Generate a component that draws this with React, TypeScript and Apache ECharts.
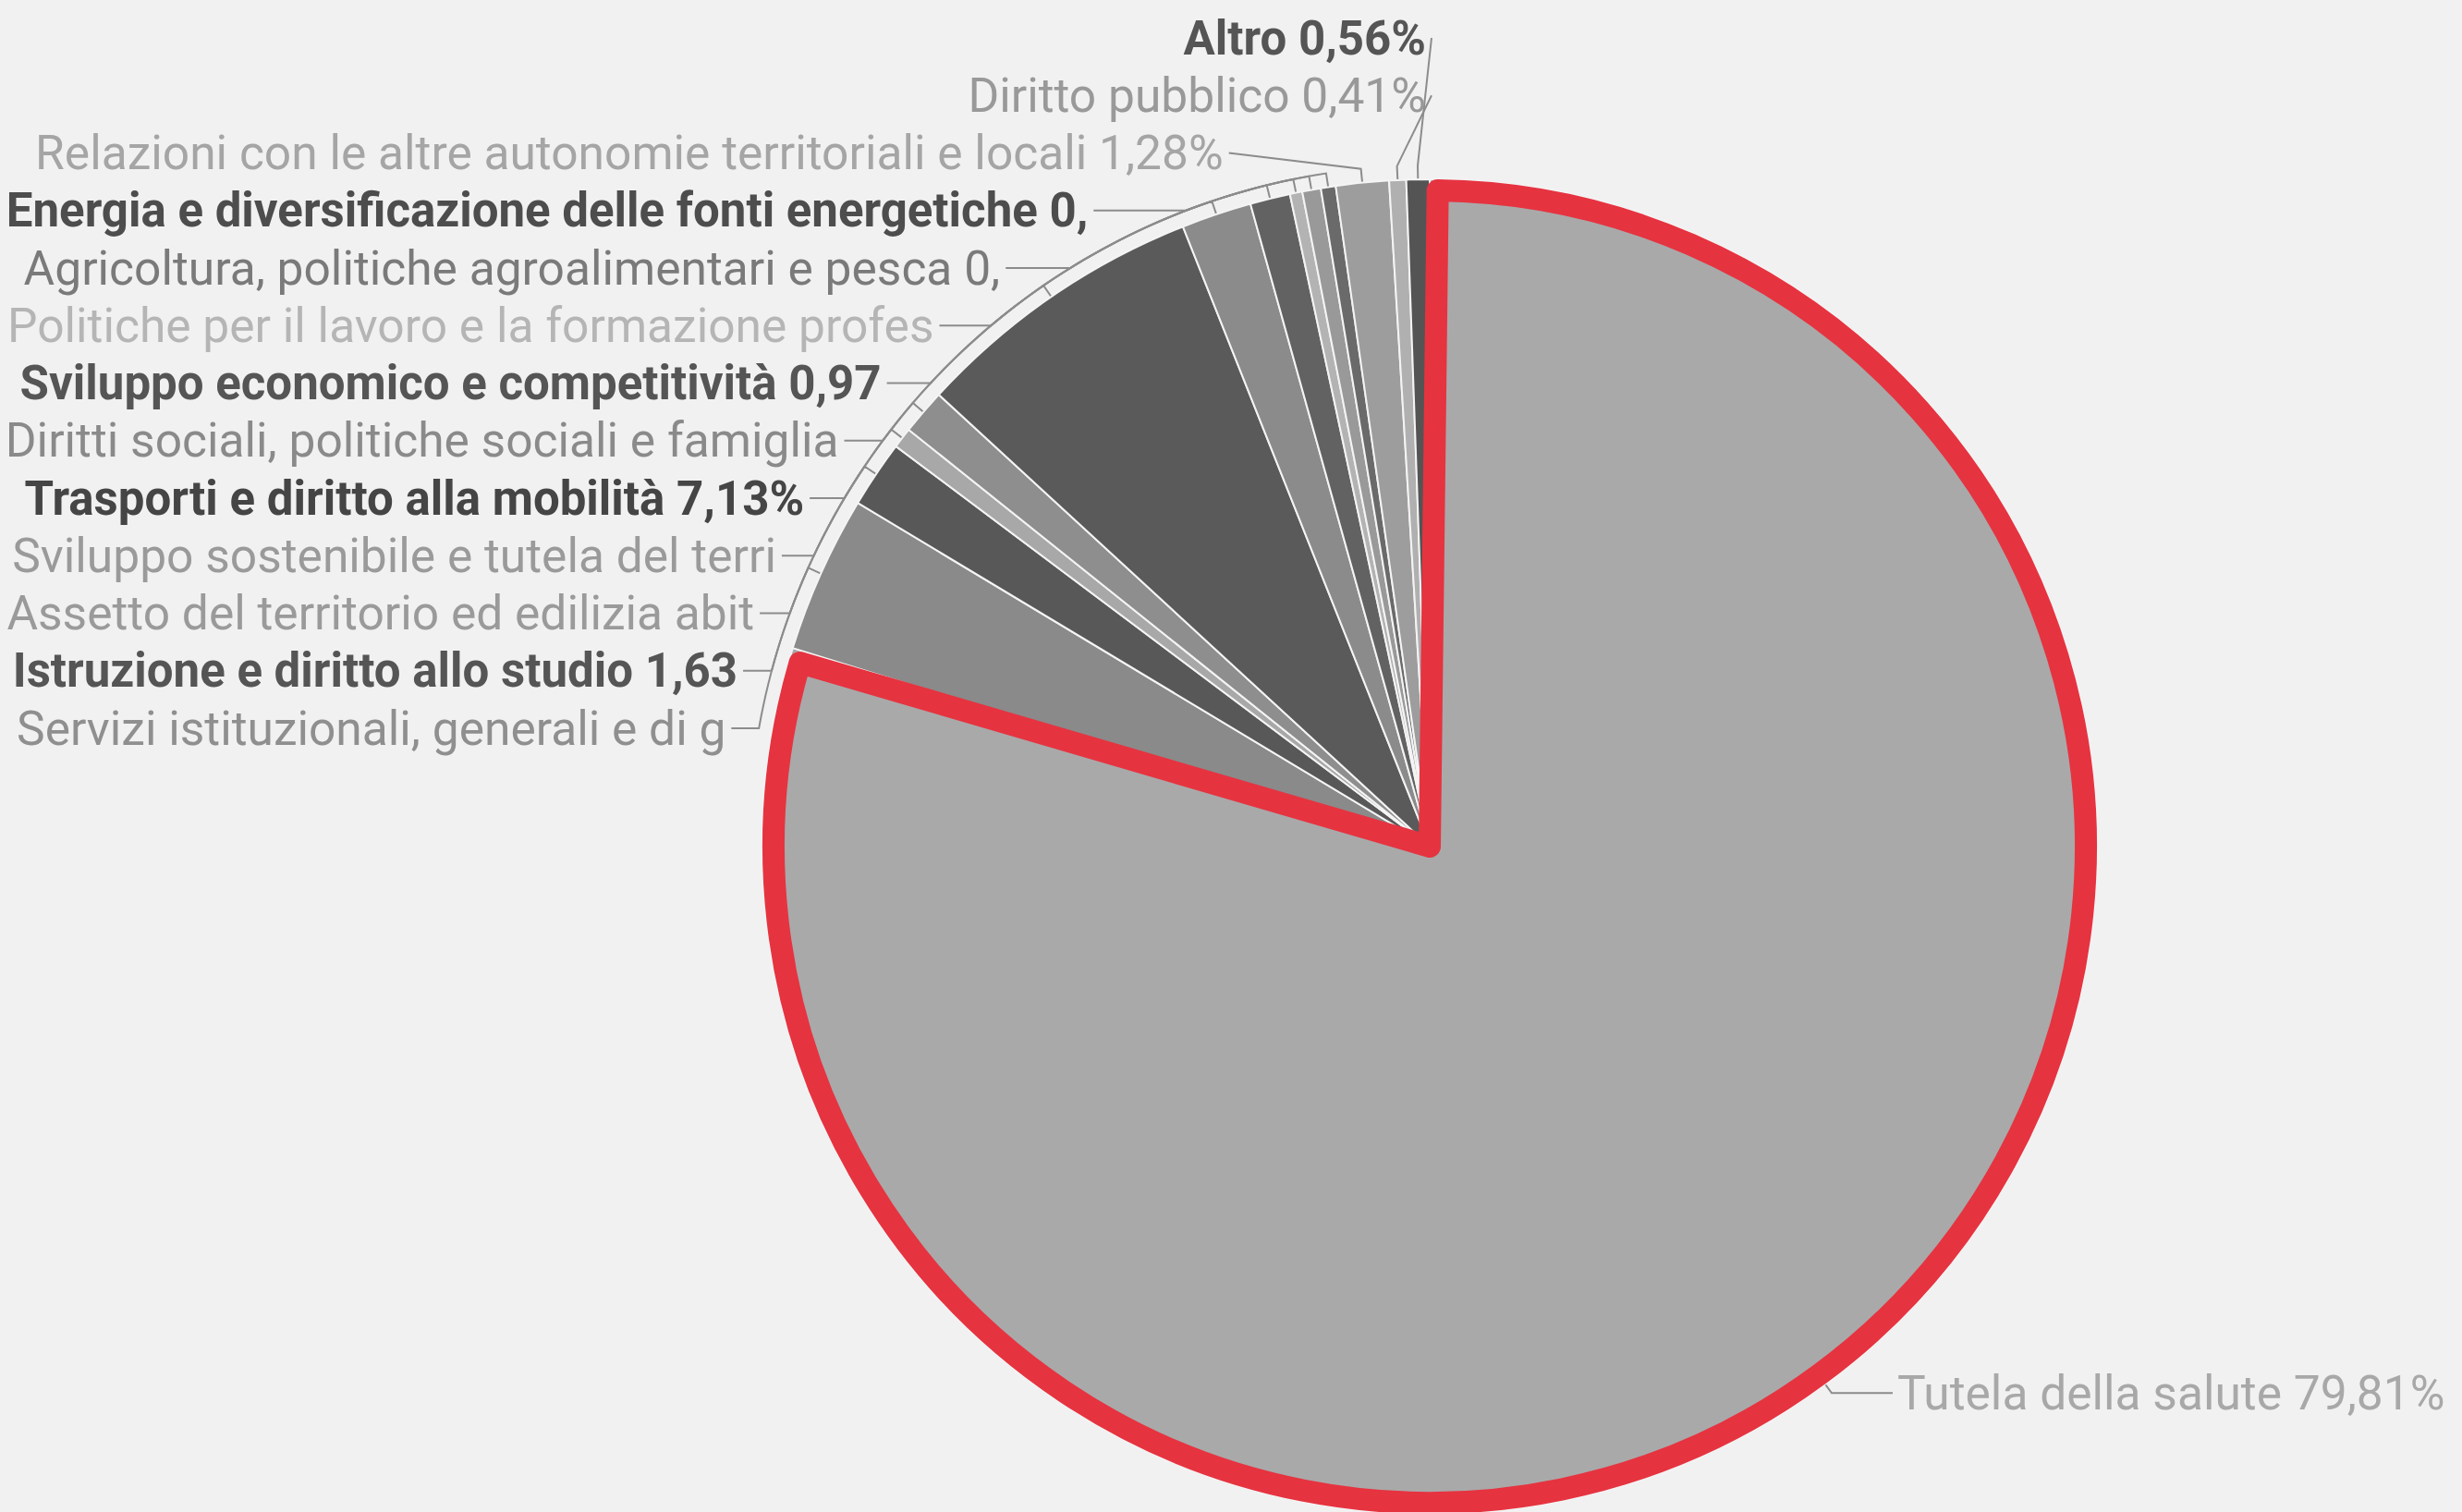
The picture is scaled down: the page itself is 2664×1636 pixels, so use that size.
import React, { useEffect, useRef } from "react";
import * as echarts from "echarts";

// ---- data ----
const categories = [
  "Tutela della salute",
  "Servizi istituzionali, generali e di gestione",
  "Istruzione e diritto allo studio",
  "Assetto del territorio ed edilizia abitativa",
  "Sviluppo sostenibile e tutela del territorio e dell'ambiente",
  "Trasporti e diritto alla mobilità",
  "Diritti sociali, politiche sociali e famiglia",
  "Sviluppo economico e competitività",
  "Politiche per il lavoro e la formazione professionale",
  "Agricoltura, politiche agroalimentari e pesca",
  "Energia e diversificazione delle fonti energetiche",
  "Relazioni con le altre autonomie territoriali e locali",
  "Diritto pubblico",
  "Altro",
];
const shares = [79.81, 3.8, 1.63, 0.5, 1.1, 7.13, 1.7, 0.97, 0.3, 0.45, 0.36, 1.28, 0.41, 0.56];
const highlighted = "Tutela della salute";

// ---- styles ----
const sliceColors = [
  "#a9a9a9", "#8a8a8a", "#585858", "#a8a8a8", "#8e8e8e", "#5a5a5a", "#8b8b8b",
  "#626262", "#b3b3b3", "#999999", "#6a6a6a", "#9d9d9d", "#b0b0b0", "#545454",
];
const labelColors = [
  "#a8a8a8", "#8f8f8f", "#555555", "#9a9a9a", "#9a9a9a", "#454545", "#8a8a8a",
  "#555555", "#b5b5b5", "#7a7a7a", "#4d4d4d", "#a5a5a5", "#999999", "#555555",
];
const boldLabels = [false, false, true, false, false, true, false, true, false, false, true, false, false, true];

const W = 2664;
const H = 1636;
const CX = 1547;
const CY = 916;
const R = 722;
const RED = "#e63340";
const RED_W = 24;
const LABEL_TOP = 41;
const LABEL_STEP = 62.25;
const LABEL_RX = 772;
const LABEL_RY = 784;
const ARC_R = 737;
const LEFT_BOUND = 4;
const TEXT_GAP = 6;
const FONT = "Roboto";
const SIZE_NORMAL = 51.5;
const SIZE_BOLD = 51;

const fmtPct = (v: number) => v.toFixed(2).replace(".", ",") + "%";
const leftRank = (i: number) => categories.length - 1 - i;
const labelY = (i: number) => LABEL_TOP + leftRank(i) * LABEL_STEP;
const labelRightX = (i: number) => {
  const dy = CY - labelY(i);
  const k = Math.max(1 - (dy * dy) / (LABEL_RY * LABEL_RY), 0);
  const dx = LABEL_RX * Math.sqrt(k);
  return CX - Math.max(dx, 4);
};
const fontOf = (i: number) =>
  boldLabels[i] ? `bold ${SIZE_BOLD}px ${FONT}` : `normal ${SIZE_NORMAL}px ${FONT}`;

let measureCtx: CanvasRenderingContext2D | null = null;
const textWidth = (s: string, font: string) => {
  if (!measureCtx) measureCtx = document.createElement("canvas").getContext("2d");
  if (!measureCtx) return s.length * 25;
  measureCtx.font = font;
  return measureCtx.measureText(s).width;
};
const fitText = (s: string, maxW: number, font: string) => {
  let t = s;
  while (t.length > 1 && textWidth(t, font) > maxW) t = t.slice(0, -1);
  return t;
};

export default function App() {
  const ref = useRef<HTMLDivElement>(null);

  useEffect(() => {
    if (!ref.current) return;
    const chart = echarts.init(ref.current, undefined, { renderer: "svg" });

    const mainData = categories.map((name, i) => ({
      name,
      value: shares[i],
      itemStyle: { color: sliceColors[i] },
      label:
        i === 0
          ? { color: labelColors[i], fontWeight: "normal", fontSize: SIZE_NORMAL, width: 640, overflow: "truncate", ellipsis: "" }
          : {
              color: labelColors[i],
              fontWeight: boldLabels[i] ? "bold" : "normal",
              fontSize: boldLabels[i] ? SIZE_BOLD : SIZE_NORMAL,
              width: labelRightX(i) - LEFT_BOUND + 80,
              overflow: "truncate",
              ellipsis: "",
            },
      labelLine: i === 0 ? { length: 12, length2: 66 } : { length: 14, length2: 20 },
    }));

    const overlayData = categories.map((name, i) => ({
      name,
      value: shares[i],
      itemStyle:
        name === highlighted
          ? { color: "rgba(0,0,0,0)", borderColor: RED, borderWidth: RED_W, borderJoin: "round" }
          : { color: "rgba(0,0,0,0)", borderWidth: 0 },
    }));

    chart.setOption({
      animation: false,
      backgroundColor: "#f1f1f1",
      textStyle: { fontFamily: FONT },
      series: [
        {
          type: "pie",
          center: [CX, CY],
          radius: R,
          startAngle: 90,
          clockwise: true,
          itemStyle: { borderColor: "#f4f4f4", borderWidth: 2 },
          emphasis: { disabled: true },
          label: {
            show: true,
            position: "outside",
            fontFamily: FONT,
            fontSize: SIZE_NORMAL,
            lineHeight: 60,
            formatter: (p: any) => {
              const full = `${p.name} ${fmtPct(p.value)}`;
              const i = p.dataIndex;
              if (i === 0) return full;
              return fitText(full, labelRightX(i) - LEFT_BOUND, fontOf(i));
            },
          },
          labelLine: {
            show: true,
            lineStyle: { color: "#8c8c8c", width: 2 },
          },
          labelLayout: (params: any) => {
            const i = params.dataIndex;
            if (i === 0) return {};
            const y = labelY(i);
            const xr = labelRightX(i);
            const pts: number[][] = [];
            const src = params.labelLinePoints;
            if (src && src[0]) {
              const p0 = src[0];
              pts.push([p0[0], p0[1]]);
              const th0 = Math.atan2(CY - p0[1], CX - p0[0]);
              const dy = CY - y;
              if (dy < ARC_R) {
                const th1 = Math.asin(dy / ARC_R);
                const steps = Math.max(1, Math.ceil(Math.abs(th1 - th0) / (Math.PI / 180)));
                for (let s = 0; s <= steps; s++) {
                  const th = th0 + ((th1 - th0) * s) / steps;
                  pts.push([CX - ARC_R * Math.cos(th), CY - ARC_R * Math.sin(th)]);
                }
              } else {
                pts.push([CX - ARC_R * Math.cos(th0), CY - ARC_R * Math.sin(th0)]);
              }
            }
            pts.push([xr + TEXT_GAP, y]);
            return { x: xr, y, align: "right", verticalAlign: "middle", labelLinePoints: pts };
          },
          data: mainData,
        },
        {
          type: "pie",
          silent: true,
          z: 5,
          center: [CX, CY],
          radius: R - RED_W / 2,
          startAngle: 90,
          clockwise: true,
          padAngle: 1.4,
          emphasis: { disabled: true },
          label: { show: false },
          labelLine: { show: false },
          data: overlayData,
        },
      ],
    });

    return () => chart.dispose();
  }, []);

  return (
    <div
      ref={ref}
      style={{ position: "fixed", left: 0, top: 0, width: W, height: H }}
    />
  );
}
